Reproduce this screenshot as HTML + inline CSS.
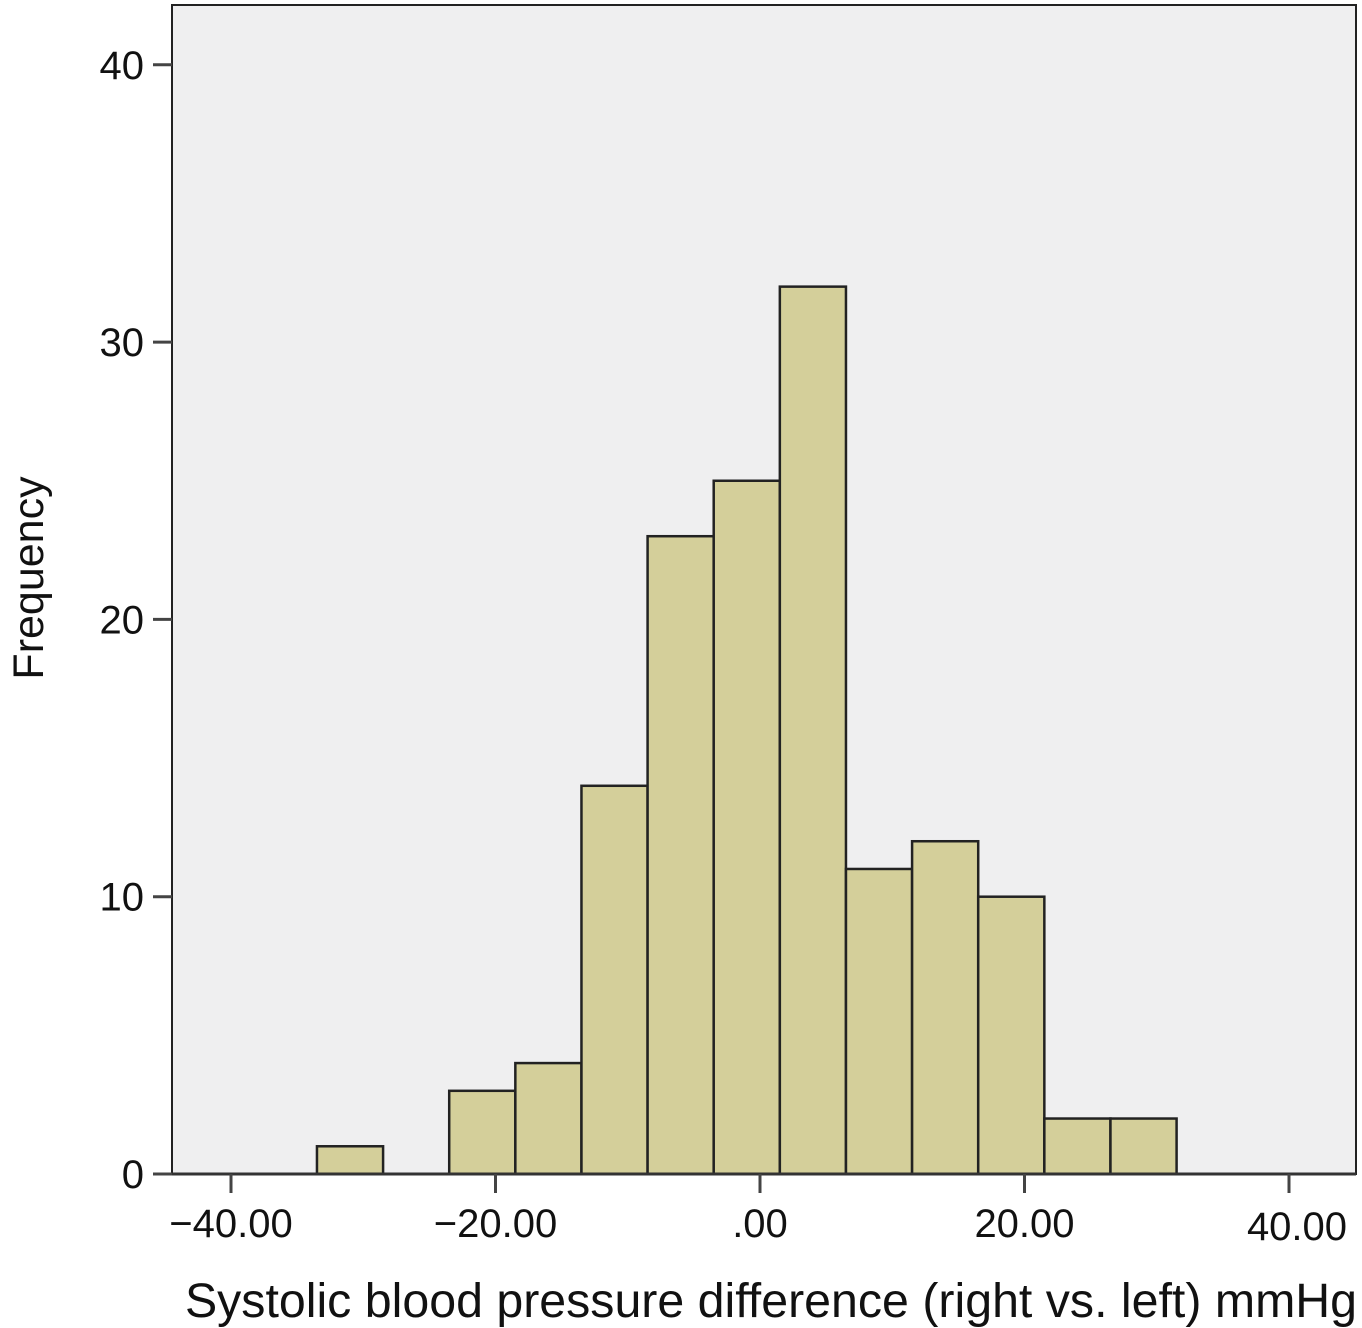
<!DOCTYPE html>
<html><head><meta charset="utf-8"><style>body{margin:0;background:#fff}svg{display:block}text{font-family:"Liberation Sans",Arial,sans-serif;fill:#111}</style></head>
<body>
<svg id="chart" width="1362" height="1328" viewBox="0 0 1362 1328">
<rect x="172" y="5" width="1184" height="1169" fill="#efeff0" stroke="#222" stroke-width="2"/>
<g id="bars"></g><g id="axes"></g>
<text transform="translate(43,578) rotate(-90)" text-anchor="middle" font-size="43">Frequency</text>
<text x="771" y="1317" text-anchor="middle" font-size="48.3">Systolic blood pressure difference (right vs. left) mmHg</text>
</svg>
<script>
const binStarts = [-33.5,-23.5,-18.5,-13.5,-8.5,-3.5,1.5,6.5,11.5,16.5,21.5,26.5];
const counts = [1,3,4,14,23,25,32,11,12,10,2,2];
const binWidth = 5;
const xTicks = [-40,-20,0,20,40];
const xTickLabels = ["\u221240.00","\u221220.00",".00","20.00","40.00"];
const yTicks = [0,10,20,30,40];
const NS="http://www.w3.org/2000/svg";
function X(v){return 760+v*13.225;}
function Y(v){return 1174-v*27.73;}
function mk(t,a,p){const e=document.createElementNS(NS,t);for(const k in a)e.setAttribute(k,a[k]);p.appendChild(e);return e;}
const bars=document.getElementById('bars'),axes=document.getElementById('axes');
binStarts.forEach((s,i)=>{
  const r=mk('rect',{x:X(s),y:Y(counts[i]),width:X(s+binWidth)-X(s),height:Y(0)-Y(counts[i]),fill:'#d4cf9a',stroke:'#222','stroke-width':2.5},bars);
  
  
});
const xl=mk('line',{x1:153,x2:1356,y1:1174,y2:1174,stroke:'#333','stroke-width':3},axes);


xTicks.forEach((v,i)=>{
  mk('line',{x1:X(v),x2:X(v),y1:1174,y2:1193,stroke:'#444','stroke-width':3},axes);
  const t=mk('text',{x:X(v)+(i==4?8:0),y:1237+(i==4?3:0),'text-anchor':'middle','font-size':40},axes);
  t.textContent=xTickLabels[i];
  
  
});
yTicks.forEach(v=>{
  mk('line',{x1:153,x2:172,y1:Y(v),y2:Y(v),stroke:'#444','stroke-width':3},axes);
  const t=mk('text',{x:144,y:Y(v)+14,'text-anchor':'end','font-size':40},axes);
  t.textContent=v;
  
  
});
</script>
</body></html>
